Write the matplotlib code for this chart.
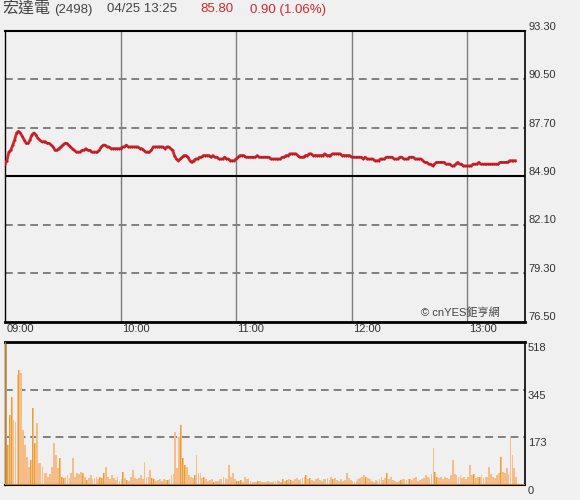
import matplotlib
matplotlib.use("Agg")
import matplotlib.pyplot as plt
import matplotlib.transforms as mtransforms

# ---------------- data ----------------
stock_name = "宏達電"
stock_code = "(2498)"
stamp = "04/25 13:25"
last_price = "85.80"
change_text = "0.90 (1.06%)"
watermark = "© cnYES鉅亨網"

prev_close = 84.90
price_ticks = [76.50, 79.30, 82.10, 84.90, 87.70, 90.50, 93.30]
vol_ticks = [0, 173, 345, 518]
time_labels = ["09:00", "10:00", "11:00", "12:00", "13:00"]
time_label_minutes = [0, 60, 120, 180, 240]

# minute-by-minute price from 09:00
prices = [
    85.6, 85.8, 86.3, 86.4, 86.7, 87.0, 87.4, 87.5, 87.4, 87.2,
    87.0, 86.8, 86.8, 87.0, 87.3, 87.4, 87.3, 87.1, 87.0, 86.9,
    86.9, 86.9, 86.8, 86.8, 86.7, 86.6, 86.4, 86.4, 86.5, 86.6,
    86.7, 86.8, 86.8, 86.7, 86.6, 86.5, 86.4, 86.3, 86.3, 86.3,
    86.4, 86.4, 86.5, 86.4, 86.4, 86.3, 86.3, 86.3, 86.3, 86.4,
    86.6, 86.7, 86.7, 86.6, 86.6, 86.5, 86.5, 86.5, 86.5, 86.5,
    86.5, 86.6, 86.6, 86.7, 86.6, 86.6, 86.6, 86.6, 86.6, 86.6,
    86.5, 86.5, 86.4, 86.3, 86.3, 86.3, 86.4, 86.6, 86.6, 86.6,
    86.6, 86.6, 86.6, 86.5, 86.6, 86.6, 86.5, 86.4, 86.1, 85.9,
    85.8, 85.9, 86.0, 86.1, 86.1, 86.0, 85.8, 85.7, 85.8, 85.9,
    85.9, 86.0, 86.0, 86.1, 86.1, 86.1, 86.1, 86.0, 86.1, 86.0,
    86.0, 85.9, 85.9, 85.9, 86.0, 85.9, 85.9, 85.8, 85.8, 85.8,
    85.9, 86.0, 86.1, 86.1, 86.1, 86.0, 86.0, 86.0, 86.0, 86.0,
    86.0, 86.1, 86.0, 86.0, 86.0, 86.0, 86.0, 86.0, 85.9, 85.9,
    85.9, 85.9, 85.9, 85.9, 86.0, 86.0, 86.1, 86.1, 86.2, 86.2,
    86.2, 86.2, 86.1, 86.0, 86.0, 86.0, 86.1, 86.1, 86.2, 86.2,
    86.1, 86.1, 86.1, 86.1, 86.1, 86.1, 86.2, 86.1, 86.1, 86.1,
    86.2, 86.2, 86.2, 86.2, 86.2, 86.1, 86.1, 86.1, 86.1, 86.1,
    86.0, 86.0, 86.0, 86.0, 86.0, 86.0, 85.9, 86.0, 85.9, 85.9,
    85.9, 85.9, 85.8, 85.8, 85.8, 85.9, 85.9, 85.9, 86.0, 86.0,
    86.0, 86.0, 85.9, 85.9, 85.9, 86.0, 86.0, 85.9, 85.9, 85.9,
    86.0, 86.0, 86.0, 85.9, 85.9, 85.9, 85.9, 85.8, 85.7, 85.7,
    85.6, 85.6, 85.5, 85.6, 85.7, 85.7, 85.7, 85.7, 85.7, 85.6,
    85.6, 85.6, 85.5, 85.5, 85.6, 85.7, 85.6, 85.6, 85.5, 85.5,
    85.5, 85.5, 85.5, 85.6, 85.6, 85.6, 85.7, 85.6, 85.6, 85.6,
    85.6, 85.6, 85.6, 85.6, 85.6, 85.6, 85.6, 85.7, 85.7, 85.7,
    85.7, 85.7, 85.8, 85.8, 85.8, 85.8,
]

# minute-by-minute volume (lots)
volumes = [
    600, 145, 254, 319, 235, 228, 398, 417, 405, 199,
    145, 101, 65, 90, 279, 152, 224, 80, 80, 65,
    43, 43, 29, 40, 65, 152, 109, 60, 98, 29,
    25, 30, 36, 25, 43, 98, 29, 43, 40, 47,
    43, 30, 18, 25, 36, 20, 25, 29, 22, 29,
    25, 43, 65, 29, 20, 36, 25, 18, 29, 15,
    20, 47, 25, 18, 15, 30, 54, 25, 20, 25,
    36, 20, 83, 30, 29, 54, 25, 22, 15, 18,
    20, 15, 22, 18, 18, 22, 36, 40, 192, 60,
    174, 217, 98, 72, 65, 36, 29, 25, 36, 109,
    43, 43, 25, 29, 20, 15, 18, 22, 12, 14,
    15, 20, 22, 29, 25, 20, 72, 30, 43, 20,
    15, 14, 18, 12, 29, 20, 25, 15, 10, 12,
    10, 14, 15, 12, 10, 12, 15, 10, 12, 14,
    15, 18, 14, 12, 20, 15, 18, 22, 18, 14,
    20, 25, 18, 22, 25, 29, 36, 22, 25, 18,
    15, 20, 25, 18, 14, 20, 22, 25, 18, 29,
    22, 25, 18, 15, 20, 14, 18, 43, 25, 18,
    14, 12, 15, 20, 25, 30, 36, 30, 25, 20,
    15, 12, 18, 14, 22, 29, 18, 25, 43, 20,
    29, 18, 14, 12, 15, 18, 20, 22, 18, 20,
    22, 18, 25, 30, 15, 18, 20, 25, 36, 30,
    25, 40, 134, 47, 30, 25, 29, 22, 29, 25,
    20, 36, 90, 40, 36, 30, 36, 25, 29, 22,
    30, 72, 36, 40, 25, 30, 29, 36, 25, 29,
    30, 65, 40, 29, 25, 36, 43, 101, 47, 43,
    60, 40, 174, 109, 60, 30,
]

minutes = list(range(len(prices)))

# ---------------- style ----------------
BG = "#f0f0f0"
GRID = "#7f7f7f"
RED = "#d9262b"
LABEL = "#333333"
VOL_LIGHT = "#f6bd88"
VOL_DARK = "#e4a030"
NUMFONT = ["Liberation Sans", "DejaVu Sans"]

fig = plt.figure(figsize=(5.8, 5.0), dpi=100, facecolor=BG)

W, H = 580.0, 500.0
ax_p = fig.add_axes([5 / W, 1 - 321.5 / H, 520 / W, (321.5 - 31) / H])
ax_v = fig.add_axes([5 / W, 1 - 485 / H, 520 / W, (485 - 342) / H])

for ax in (ax_p, ax_v):
    ax.set_facecolor(BG)
    ax.set_xlim(0, 270)
    ax.set_xticks([])
    ax.set_yticks([])
    for s in ax.spines.values():
        s.set_color("black")

# ----- price panel -----
ax_p.set_ylim(price_ticks[0], price_ticks[-1])
ax_p.spines["top"].set_linewidth(1.5)
ax_p.spines["bottom"].set_linewidth(2.0)
ax_p.spines["left"].set_linewidth(1.0)
ax_p.spines["right"].set_linewidth(1.2)

for m in time_label_minutes[1:]:
    ax_p.axvline(m, color=GRID, lw=1.0, zorder=1)
for t in price_ticks[1:-1]:
    if abs(t - prev_close) < 1e-6:
        ax_p.axhline(t, color="black", lw=1.5, zorder=2)
    else:
        ax_p.axhline(t, color=GRID, lw=1.4, ls=(0, (4, 2.5)), zorder=1)

ax_p.plot(minutes, prices, color=RED, lw=2.0, zorder=3,
          marker="o", markersize=1.5, markeredgewidth=0, markerfacecolor="#b01a20")

ax_p.text(0.952, 0.012, watermark, transform=ax_p.transAxes, ha="right", va="bottom",
          fontsize=8, color="#444444",
          family=["Liberation Sans", "Noto Sans CJK TC", "DejaVu Sans"], zorder=4)

tr_p = mtransforms.blended_transform_factory(ax_p.transAxes, ax_p.transData)
for t in price_ticks:
    ax_p.annotate(f"{t:.2f}", xy=(1.0, t), xycoords=tr_p, xytext=(2.2, 3.0),
                  textcoords="offset points", ha="left", va="center",
                  fontsize=8, color=LABEL, family=NUMFONT, annotation_clip=False)

tr_x = mtransforms.blended_transform_factory(ax_p.transData, ax_p.transAxes)
for m, lab in zip(time_label_minutes, time_labels):
    ax_p.annotate(lab, xy=(m, 0.0), xycoords=tr_x, xytext=(1.0, -1.5),
                  textcoords="offset points", ha="left", va="top",
                  fontsize=8, color=LABEL, family=NUMFONT, annotation_clip=False)

# ----- volume panel -----
ax_v.set_ylim(vol_ticks[0], vol_ticks[-1])
ax_v.spines["top"].set_linewidth(2.0)
ax_v.spines["bottom"].set_linewidth(1.5)
ax_v.spines["left"].set_linewidth(1.0)
ax_v.spines["right"].set_linewidth(1.2)

for t in vol_ticks[1:-1]:
    ax_v.axhline(t, color=GRID, lw=1.4, ls=(0, (4, 2.5)), zorder=1)

up = [False] + [prices[i] > prices[i - 1] for i in range(1, len(prices))]
light_m = [m for m in minutes if not up[m]]
light_v = [volumes[m] for m in minutes if not up[m]]
dark_m = [m for m in minutes if up[m]]
dark_v = [volumes[m] for m in minutes if up[m]]
ax_v.bar(light_m, light_v, width=0.92, color=VOL_LIGHT, linewidth=0, zorder=2,
         align="edge")
ax_v.bar(dark_m, dark_v, width=0.92, color=VOL_LIGHT, linewidth=0, zorder=2,
         align="edge")
ax_v.bar(dark_m, dark_v, width=0.4, color=VOL_DARK, linewidth=0, zorder=2.5,
         align="edge")
ax_v.axhline(0, color=VOL_DARK, lw=1.2, zorder=3)
ax_v.axvline(0, color=VOL_DARK, lw=1.2, zorder=3)

tr_v = mtransforms.blended_transform_factory(ax_v.transAxes, ax_v.transData)
for t in vol_ticks:
    ax_v.annotate(f"{t}", xy=(1.0, t), xycoords=tr_v, xytext=(2.2, -4.3),
                  textcoords="offset points", ha="left", va="center",
                  fontsize=8, color=LABEL, family=NUMFONT, annotation_clip=False)

# ----- header -----
ty = 1 - 9.5 / H
fig.text(2 / W, ty, stock_name, ha="left", va="center", fontsize=11.5, color="#444444",
         family=["Noto Sans CJK TC", "DejaVu Sans"])
fig.text(54 / W, ty, stock_code, ha="left", va="center", fontsize=9.5, color="#444444",
         family=NUMFONT)
fig.text(107 / W, ty, stamp, ha="left", va="center", fontsize=9.5, color="#444444",
         family=NUMFONT)
fig.text(200 / W, ty, last_price, ha="left", va="center", fontsize=9.5, color="#cc2a2a",
         family=NUMFONT)
fig.text(250 / W, ty, change_text, ha="left", va="center", fontsize=9.5, color="#cc2a2a",
         family=NUMFONT)

fig.savefig("out.png", dpi=100, facecolor=BG)
